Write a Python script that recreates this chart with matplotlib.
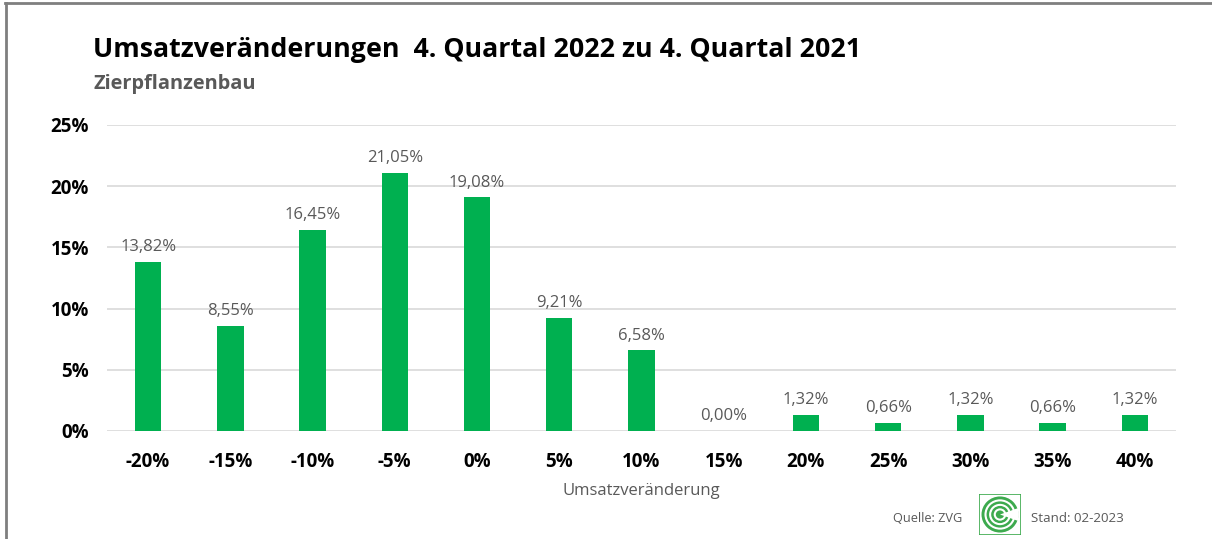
import matplotlib
matplotlib.use("Agg")
import matplotlib.pyplot as plt
from matplotlib.patches import Rectangle, Circle, Wedge
from matplotlib.lines import Line2D

categories = ["-20%", "-15%", "-10%", "-5%", "0%", "5%", "10%", "15%", "20%", "25%", "30%", "35%", "40%"]
values = [13.82, 8.55, 16.45, 21.05, 19.08, 9.21, 6.58, 0.00, 1.32, 0.66, 1.32, 0.66, 1.32]
yticks = [0, 5, 10, 15, 20, 25]

title = "Umsatzveränderungen  4. Quartal 2022 zu 4. Quartal 2021"
subtitle = "Zierpflanzenbau"
xlabel = "Umsatzveränderung"
source = "Quelle: ZVG"
stand = "Stand: 02-2023"

plt.rcParams['font.family'] = ['Open Sans', 'DejaVu Sans']

W, H = 1212, 539
fig = plt.figure(figsize=(W / 100, H / 100), dpi=100)

def fx(px):
    return px / W

def fy(py):
    return 1 - py / H

ax = fig.add_axes([fx(107), fy(431), fx(1176) - fx(107), fy(125) - fy(431)])
x = list(range(len(categories)))
ax.bar(x, values, width=0.32, color="#00B050", zorder=3)
ax.set_xlim(-0.5, len(categories) - 0.5)
ax.set_ylim(0, 25)
ax.set_yticks(yticks)
ax.set_yticklabels([f"{v}%" for v in yticks], fontsize=13.5, fontweight="bold", color="black")
ax.set_xticks(x)
ax.set_xticklabels(categories, fontsize=13.5, fontweight="bold", color="black")
ax.tick_params(axis="both", length=0)
ax.tick_params(axis="y", pad=13)
ax.tick_params(axis="x", pad=15)
ax.grid(axis="y", color="#D9D9D9", linewidth=1.2, zorder=0)
for s in ax.spines.values():
    s.set_visible(False)
for xi, v in zip(x, values):
    ax.annotate(f"{v:.2f}%".replace(".", ","), (xi, v), xytext=(0, 5), textcoords="offset points",
                ha="center", va="bottom", fontsize=12, color="#595959")

fig.text(fx(93), fy(50), title, fontsize=19.3, fontweight="bold", color="black", va="center", ha="left")
fig.text(fx(93), fy(84), subtitle, fontsize=14.4, fontweight="bold", color="#595959", va="center", ha="left")
fig.text(fx(641), fy(491), xlabel, fontsize=12, color="#595959", va="center", ha="center")
fig.text(fx(893), fy(518), source, fontsize=9.2, color="#595959", va="center", ha="left")
fig.text(fx(1031), fy(518), stand, fontsize=9.6, color="#595959", va="center", ha="left")

# frame of the screenshot
fig.add_artist(Line2D([fx(5), 1], [fy(3), fy(3)], color="#7F7F7F", linewidth=2))
fig.add_artist(Line2D([fx(6), fx(6)], [fy(3), 0], color="#7F7F7F", linewidth=2))

# logo
lax = fig.add_axes([fx(979), fy(535), fx(1021) - fx(979), fy(494) - fy(535)])
lax.set_xlim(0, 1)
lax.set_ylim(0, 1)
lax.axis("off")
lax.add_patch(Rectangle((0, 0), 1, 1, facecolor="white", edgecolor="#3DAA4E", linewidth=1.2))
for r, c in [(0.44, "#3DAA4E"), (0.37, "white"), (0.32, "#3DAA4E"), (0.26, "white"),
             (0.21, "#3DAA4E"), (0.15, "white"), (0.10, "#3DAA4E")]:
    lax.add_patch(Circle((0.5, 0.5), r, facecolor=c, edgecolor="none"))
lax.add_patch(Wedge((0.5, 0.5), 0.45, -20, 20, facecolor="white", edgecolor="none"))

fig.savefig("out.png", dpi=100)
